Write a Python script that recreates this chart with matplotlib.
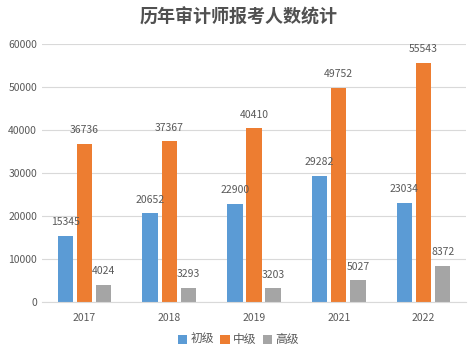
import matplotlib.pyplot as plt
import numpy as np

plt.rcParams['font.family'] = ['Noto Sans CJK SC', 'DejaVu Sans']

years = ["2017", "2018", "2019", "2021", "2022"]
series_names = ["初级", "中级", "高级"]
chuji = [15345, 20652, 22900, 29282, 23034]
zhongji = [36736, 37367, 40410, 49752, 55543]
gaoji = [4024, 3293, 3203, 5027, 8372]
colors = ["#5B9BD5", "#ED7D31", "#A5A5A5"]

fig = plt.figure(figsize=(4.77, 3.57), dpi=100)
ax = fig.add_axes([0.088, 0.154, 0.889, 0.723])

x = np.arange(len(years))
w = 0.18
step = 0.225
txt = "#595959"

for i, (vals, name) in enumerate(zip([chuji, zhongji, gaoji], series_names)):
    pos = x + (i - 1) * step
    ax.bar(pos, vals, width=w, color=colors[i], label=name, zorder=2)
    for p, v in zip(pos, vals):
        ax.text(p, v + 2000, str(v), ha="center", va="bottom", fontsize=7.5, color=txt)

ax.set_xlim(-0.5, len(years) - 0.5)
ax.set_ylim(0, 60000)
ax.set_yticks(range(0, 60001, 10000))
ax.set_xticks(x)
ax.set_xticklabels(years)
ax.tick_params(axis="both", length=0, labelsize=7.5, colors=txt)
ax.tick_params(axis="x", pad=8)
ax.grid(axis="y", color="#D9D9D9", linewidth=0.8, zorder=0)
for s in ["top", "right", "left"]:
    ax.spines[s].set_visible(False)
ax.spines["bottom"].set_color("#D9D9D9")

fig.suptitle("历年审计师报考人数统计", x=0.5, y=0.98, fontsize=13, color="#505050", fontweight="bold")
fig.legend(loc="lower center", bbox_to_anchor=(0.5, 0.0), ncol=3, frameon=False,
           fontsize=8.5, handlelength=0.8, handleheight=0.8, columnspacing=0.5,
           handletextpad=0.3, labelcolor=txt)

fig.savefig("out.png", dpi=100)
